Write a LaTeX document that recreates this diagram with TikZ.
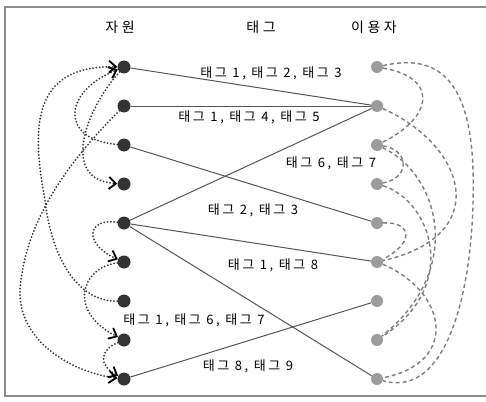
\documentclass[tikz,border=0pt]{standalone}
\usepackage{fontspec}
\newfontfamily\krheadfont[LetterSpace=25]{Noto Sans CJK KR}
\newfontfamily\krtagfont[LetterSpace=20]{Noto Sans CJK KR}
\usetikzlibrary{arrows.meta}
\definecolor{darkdot}{HTML}{333333}
\definecolor{lightdot}{HTML}{9C9C9C}
\definecolor{linkgray}{HTML}{555555}
\definecolor{framegray}{HTML}{8C8C8C}
\begin{document}
\begin{tikzpicture}[x=1pt, y=-1pt,
    resnode/.style={circle, fill=darkdot, inner sep=0pt, minimum size=13pt},
    usernode/.style={circle, fill=lightdot, inner sep=0pt, minimum size=12pt},
    taglink/.style={linkgray, line width=1pt},
    reslink/.style={darkdot, line width=2pt, dash pattern=on 0pt off 3.3pt, line cap=round},
    userlink/.style={lightdot!80!black, line width=1.4pt, dash pattern=on 4pt off 3pt},
    barb/.style={-{Straight Barb[length=7pt, width=12pt, line width=1.8pt, color=black]}},
    headtext/.style={font=\krheadfont\fontsize{14}{16}\selectfont},
    tagtext/.style={font=\krtagfont\fontsize{13}{15}\selectfont}]
    \useasboundingbox (0, 0) rectangle (486, 401);
    \draw[framegray, line width=1.5pt] (486, 7) -- (5, 7) -- (5, 396) -- (486, 396);

    \node[headtext] (hres) at (120, 27) {자원};
    \node[headtext] (htag) at (261, 27) {태그};
    \node[headtext] (huser) at (374, 27) {이용자};

    \foreach \i/\y in {1/67, 2/106, 3/145, 4/184, 5/223, 6/262, 7/301, 8/340, 9/379} {
        \node[resnode] (L\i) at (124, \y) {};
        \node[usernode] (R\i) at (377, \y) {};
    }

    \draw[taglink] (L1) -- (R2);
    \draw[taglink] (L2) -- (R2);
    \draw[taglink] (L3) -- (R5);
    \draw[taglink] (L5) -- (R2);
    \draw[taglink] (L5) -- (R6);
    \draw[taglink] (L5) -- (R9);
    \draw[taglink] (L9) -- (R7);

    \node[tagtext] (t1) at (271, 73) {태그 1, 태그 2, 태그 3};
    \node[tagtext] (t2) at (249, 117) {태그 1, 태그 4, 태그 5};
    \node[tagtext] (t3) at (331, 163) {태그 6, 태그 7};
    \node[tagtext] (t4) at (253, 210) {태그 2, 태그 3};
    \node[tagtext] (t5) at (273, 265) {태그 1, 태그 8};
    \node[tagtext] (t6) at (194, 320) {태그 1, 태그 6, 태그 7};
    \node[tagtext] (t7) at (248, 366) {태그 8, 태그 9};

    \draw[reslink, barb] (L3) .. controls (60, 140) and (62, 92) .. (L1);
    \draw[reslink, barb] (L7) .. controls (80, 302) and (52, 262) .. (45, 200)
        .. controls (32, 130) and (30, 65) .. (L1);
    \draw[reslink, barb] (L1) .. controls (85, 110) and (60, 180) .. (L4);
    \draw[reslink, barb] (L2) .. controls (70, 160) and (25, 220) .. (20, 290)
        .. controls (18, 340) and (70, 372) .. (L9);
    \draw[reslink, barb] (L5) .. controls (85, 218) and (85, 245) .. (L6);
    \draw[reslink, barb] (L6) .. controls (80, 268) and (68, 312) .. (L8);
    \draw[reslink, barb] (L8) .. controls (100, 350) and (98, 365) .. (L9);

    \draw[userlink] (R1) .. controls (440, 78) and (432, 118) .. (R3);
    \draw[userlink] (R1) .. controls (430, 55) and (470, 70) .. (473, 170)
        .. controls (476, 280) and (450, 400) .. (R9);
    \draw[userlink] (R2) .. controls (465, 145) and (495, 235) .. (R6);
    \draw[userlink] (R3) .. controls (410, 150) and (410, 178) .. (R4);
    \draw[userlink] (R3) .. controls (440, 175) and (465, 270) .. (R8);
    \draw[userlink] (R4) .. controls (430, 200) and (462, 285) .. (R8);
    \draw[userlink] (R5) .. controls (415, 222) and (412, 245) .. (R6);
    \draw[userlink] (R6) .. controls (445, 290) and (462, 362) .. (R9);
\end{tikzpicture}
\end{document}
